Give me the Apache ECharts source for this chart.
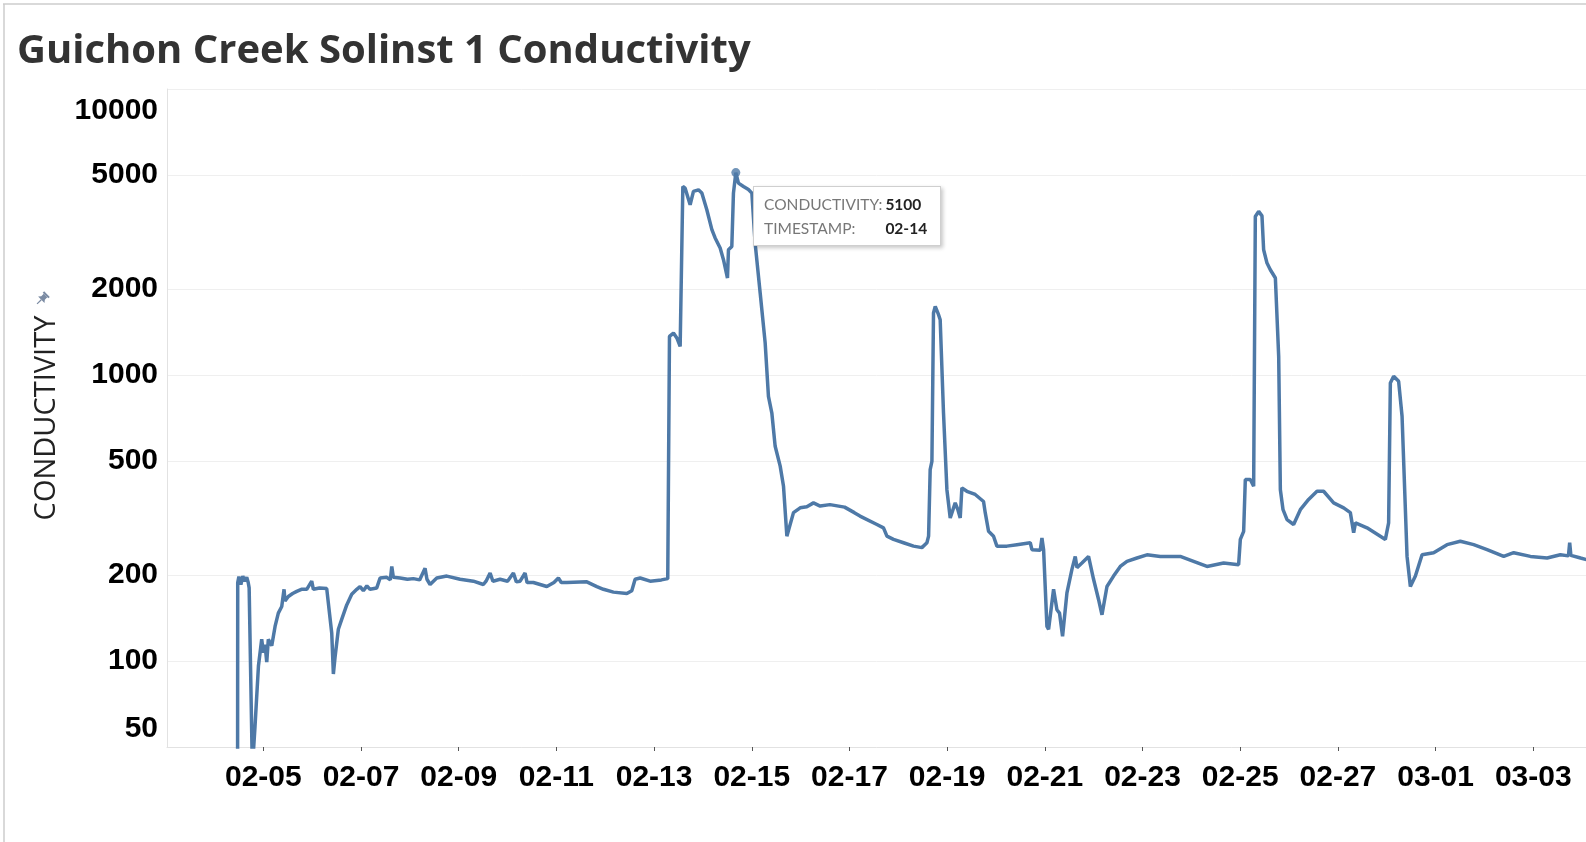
<!DOCTYPE html>
<html>
<head>
<meta charset="utf-8">
<title>Guichon Creek Solinst 1 Conductivity</title>
<script src="https://cdn.jsdelivr.net/npm/echarts@6.0.0/dist/echarts.min.js"></script>
<style>
    html, body { margin: 0; padding: 0; background: #fff; }
    #chart { width: 1586px; height: 842px; }
</style>
</head>
<body>
<div id="chart"></div>
<script>
// 年份（图上只显示 月-日）
var YEAR = '2019';

// 采样时间 MM-DD HH:mm
var timestamps = [
    '02-04 11:17', '02-04 11:25', '02-04 12:00', '02-04 12:58', '02-04 13:55', '02-04 14:53', '02-04 15:50', '02-04 16:34',
    '02-04 17:02', '02-04 18:36', '02-04 19:55', '02-04 21:36', '02-04 23:12', '02-05 00:00', '02-05 00:50', '02-05 01:41',
    '02-05 02:27', '02-05 04:08', '02-05 05:46', '02-05 07:22', '02-05 09:03', '02-05 10:11', '02-05 10:39', '02-05 12:17',
    '02-05 14:24', '02-05 16:25', '02-05 18:43', '02-05 21:20', '02-05 23:47', '02-06 00:35', '02-06 03:36', '02-06 07:09',
    '02-06 07:57', '02-06 09:37', '02-06 10:25', '02-06 11:14', '02-06 12:52', '02-06 14:33', '02-06 16:59', '02-06 19:26',
    '02-06 21:55', '02-06 23:31', '02-07 01:09', '02-07 02:53', '02-07 04:26', '02-07 07:44', '02-07 09:22', '02-07 12:39',
    '02-07 14:24', '02-07 15:07', '02-07 15:53', '02-07 19:12', '02-07 22:48', '02-08 01:44', '02-08 04:48', '02-08 07:28',
    '02-08 08:24', '02-08 09:56', '02-08 13:13', '02-08 18:09', '02-09 00:40', '02-09 07:13', '02-09 12:07', '02-09 13:26',
    '02-09 15:26', '02-09 16:48', '02-09 20:20', '02-10 00:00', '02-10 02:53', '02-10 04:19', '02-10 06:10', '02-10 08:37',
    '02-10 09:36', '02-10 12:42', '02-10 19:18', '02-10 22:48', '02-11 00:59', '02-11 02:24', '02-11 05:07', '02-11 14:57',
    '02-11 19:52', '02-11 23:07', '02-12 04:02', '02-12 10:37', '02-12 13:03', '02-12 14:41', '02-12 17:10', '02-12 22:03',
    '02-13 03:36', '02-13 06:43', '02-13 07:34', '02-13 09:32', '02-13 11:11', '02-13 12:49', '02-13 13:38', '02-13 14:08',
    '02-13 15:16', '02-13 17:43', '02-13 19:21', '02-13 21:48', '02-13 23:28', '02-14 01:55', '02-14 04:24', '02-14 06:00',
    '02-14 08:28', '02-14 10:06', '02-14 12:04', '02-14 12:33', '02-14 14:12', '02-14 15:00', '02-14 16:10', '02-14 17:28',
    '02-14 19:55', '02-14 22:22', '02-15 00:03', '02-15 01:39', '02-15 04:08', '02-15 06:35', '02-15 08:12', '02-15 09:52',
    '02-15 11:30', '02-15 13:58', '02-15 15:36', '02-15 17:15', '02-15 18:03', '02-15 20:30', '02-15 23:47', '02-16 03:04',
    '02-16 06:20', '02-16 09:37', '02-16 14:24', '02-16 21:36', '02-17 02:24', '02-17 05:11', '02-17 13:29', '02-17 16:44',
    '02-17 18:25', '02-17 21:39', '02-18 02:34', '02-18 07:29', '02-18 11:35', '02-18 14:04', '02-18 14:53', '02-18 15:40',
    '02-18 16:31', '02-18 17:18', '02-18 18:09', '02-18 19:47', '02-18 20:35', '02-18 22:13', '02-18 23:53', '02-19 01:31',
    '02-19 03:58', '02-19 05:17', '02-19 06:26', '02-19 07:15', '02-19 09:42', '02-19 13:48', '02-19 17:53', '02-19 18:43',
    '02-19 20:21', '02-19 22:48', '02-20 00:27', '02-20 05:22', '02-20 10:18', '02-20 16:51', '02-20 17:40', '02-20 21:45',
    '02-20 22:35', '02-20 23:24', '02-21 01:02', '02-21 01:51', '02-21 04:18', '02-21 05:57', '02-21 07:13', '02-21 08:43',
    '02-21 10:52', '02-21 13:19', '02-21 14:57', '02-21 15:48', '02-21 18:14', '02-21 21:29', '02-21 23:57', '02-22 02:24',
    '02-22 04:05', '02-22 06:32', '02-22 09:46', '02-22 13:05', '02-22 16:22', '02-22 21:16', '02-23 02:11', '02-23 08:44',
    '02-23 18:33', '02-24 01:06', '02-24 07:41', '02-24 15:52', '02-24 23:14', '02-25 00:04', '02-25 01:42', '02-25 02:31',
    '02-25 04:58', '02-25 06:37', '02-25 07:26', '02-25 09:04', '02-25 10:42', '02-25 11:31', '02-25 13:10', '02-25 14:48',
    '02-25 17:17', '02-25 18:55', '02-25 19:44', '02-25 21:03', '02-25 23:01', '02-26 02:15', '02-26 05:33', '02-26 09:37',
    '02-26 13:44', '02-26 16:59', '02-26 21:55', '02-27 02:50', '02-27 06:07', '02-27 07:45', '02-27 08:38', '02-27 14:18',
    '02-27 20:51', '02-27 23:20', '02-28 00:56', '02-28 01:47', '02-28 03:24', '02-28 05:51', '02-28 07:32', '02-28 09:59',
    '02-28 11:37', '02-28 14:05', '02-28 17:22', '02-28 23:04', '03-01 05:38', '03-01 12:10', '03-01 18:43', '03-02 01:18',
    '03-02 09:29', '03-02 14:24', '03-02 22:36', '03-03 06:49', '03-03 13:20', '03-03 17:17', '03-03 17:54', '03-03 18:29',
    '03-03 23:14', '03-04 02:10', '03-04 04:48'
];

// 电导率读数
var conductivity = [
    10, 188, 197, 185, 198, 190, 196, 188,
    180, 42, 59, 96, 119, 107, 114, 99,
    119, 113, 132, 147, 155, 178, 162, 168,
    172, 175, 178, 178, 190, 178, 180, 179,
    177, 125, 90, 103, 129, 140, 157, 171,
    178, 182, 176, 183, 178, 180, 195, 196,
    192, 214, 196, 195, 193, 194, 192, 211,
    193, 185, 195, 198, 193, 190, 185, 190,
    203, 190, 193, 190, 203, 189, 190, 203,
    188, 188, 182, 188, 195, 188, 188, 189,
    182, 178, 174, 172, 176, 193, 195, 190,
    192, 194, 1364, 1401, 1347, 1259, 1270, 4560,
    4500, 3937, 4385, 4440, 4325, 3782, 3221, 3013,
    2780, 2530, 2183, 2740, 2814, 4325, 5100, 4688,
    4560, 4450, 4325, 2891, 1935, 1294, 841, 736,
    563, 480, 408, 273, 270, 330, 343, 346,
    357, 348, 352, 345, 330, 321, 300, 292,
    273, 266, 259, 252, 249, 259, 273, 467,
    499, 1647, 1738, 1625, 1560, 736, 397, 316,
    357, 338, 316, 403, 392, 382, 361, 330,
    284, 273, 252, 252, 255, 259, 245, 244,
    269, 245, 132, 129, 178, 151, 147, 122,
    173, 209, 232, 212, 220, 232, 193, 164,
    145, 182, 198, 214, 223, 229, 235, 232,
    232, 223, 214, 220, 217, 266, 284, 431,
    431, 408, 3583, 3732, 3600, 2740, 2462, 2333,
    2183, 1161, 397, 338, 312, 300, 338, 367,
    392, 392, 357, 343, 330, 281, 304, 292,
    273, 266, 304, 938, 990, 950, 717, 232,
    182, 198, 235, 239, 255, 262, 255, 245,
    232, 239, 232, 229, 235, 233, 259, 234,
    229, 226, 225
];

// 坐标轴刻度
var yTickValues = [50, 100, 200, 500, 1000, 2000, 5000, 10000];
var xTickLabels = ['02-05', '02-07', '02-09', '02-11', '02-13', '02-15', '02-17',
    '02-19', '02-21', '02-23', '02-25', '02-27', '03-01', '03-03'];
// x轴范围
var xMin = '02-03 00:40';
var xMax = '03-04 01:55';

function toTime(s) {
    return new Date(YEAR + '-' + s.replace(' ', 'T')).getTime();
}
function pad(n) {
    return (n < 10 ? '0' : '') + n;
}
function mmdd(v) {
    var d = new Date(v);
    return pad(d.getMonth() + 1) + '-' + pad(d.getDate());
}

// 对数坐标：用 log10 后的值画在数值轴上
var lineData = timestamps.map(function (t, i) {
    return [toTime(t), Math.log10(conductivity[i]), conductivity[i]];
});

// 最大值的点（显示提示框）
var peakIndex = 0;
conductivity.forEach(function (v, i) {
    if (v > conductivity[peakIndex]) peakIndex = i;
});

var xTicks = xTickLabels.map(function (l) { return toTime(l + ' 00:00'); });
var yTicks = yTickValues.map(function (v) { return Math.log10(v); });

var chart = echarts.init(document.querySelector('#chart'));

var labelFont = { fontFamily: 'Liberation Sans', fontSize: 30, fontWeight: 'bold', color: '#000' };

var option = {
    animation: false,
    // 标题组件
    title: {
        text: 'Guichon Creek Solinst 1 Conductivity',
        left: 12,
        top: 27,
        textStyle: {
            fontFamily: 'Open Sans',
            fontSize: 40,
            fontWeight: 'bold',
            color: '#333'
        }
    },
    // 提示框组件
    tooltip: {
        trigger: 'item',
        triggerOn: 'none',
        alwaysShowContent: true,
        transitionDuration: 0,
        backgroundColor: '#fff',
        borderColor: '#cfcfcf',
        borderWidth: 1,
        padding: [5, 12, 5, 10],
        extraCssText: 'box-shadow: 2px 2px 4px rgba(0,0,0,0.22); border-radius: 0;',
        position: function (point) {
            return [point[0] + 17, point[1] + 13];
        },
        formatter: function (p) {
            var k = 'color:#777;padding:0 2px 0 0;';
            var v = 'color:#222;font-weight:bold;';
            return '<table style="border-collapse:collapse;font-family:Lato;font-size:15.5px;line-height:22px">' +
                '<tr><td style="' + k + '">CONDUCTIVITY:</td><td style="' + v + '">' + p.value[2] + '</td></tr>' +
                '<tr><td style="' + k + '">TIMESTAMP:</td><td style="' + v + 'text-align:right">' + mmdd(p.value[0]) + '</td></tr>' +
                '</table>';
        }
    },
    grid: {
        left: 167,
        right: 0,
        top: 89,
        bottom: 95,
        outerBoundsMode: 'none'
    },
    // 时间轴（毫秒数值）
    xAxis: {
        type: 'value',
        min: toTime(xMin),
        max: toTime(xMax),
        axisLine: { lineStyle: { color: '#e2e2e2' } },
        axisTick: {
            show: true,
            customValues: xTicks,
            length: 4,
            lineStyle: { color: '#555' }
        },
        axisLabel: {
            customValues: xTicks,
            formatter: mmdd,
            margin: 16,
            fontFamily: labelFont.fontFamily,
            fontSize: labelFont.fontSize,
            fontWeight: labelFont.fontWeight,
            color: labelFont.color
        },
        splitLine: { show: false }
    },
    yAxis: {
        type: 'value',
        min: yTicks[0],
        max: yTicks[yTicks.length - 1],
        name: 'CONDUCTIVITY',
        nameLocation: 'middle',
        nameRotate: 90,
        nameGap: 106,
        nameTextStyle: {
            fontFamily: 'Open Sans',
            fontSize: 29,
            color: '#222'
        },
        axisLine: { show: true, lineStyle: { color: '#e2e2e2' } },
        axisTick: {
            show: false,
            customValues: yTicks
        },
        axisLabel: {
            customValues: yTicks,
            margin: 9,
            fontFamily: labelFont.fontFamily,
            fontSize: labelFont.fontSize,
            fontWeight: labelFont.fontWeight,
            color: labelFont.color,
            formatter: function (v) {
                var n = Math.round(Math.pow(10, v));
                if (n === yTickValues[yTickValues.length - 1]) return '{hi|' + n + '}';
                if (n === yTickValues[0]) return '{lo|' + n + '}';
                return n;
            },
            rich: {
                hi: Object.assign({ padding: [44, 0, 0, 0] }, labelFont),
                lo: Object.assign({ padding: [0, 0, 36, 0] }, labelFont)
            }
        },
        splitLine: { lineStyle: { color: '#efefef', width: 1 } }
    },
    series: [
        {
            name: 'CONDUCTIVITY',
            type: 'line',
            data: lineData,
            showSymbol: false,
            clip: true,
            lineStyle: { color: '#4e79a7', width: 3.5 },
            itemStyle: { color: '#4e79a7' }
        },
        {
            // 高亮的峰值点
            type: 'scatter',
            data: [lineData[peakIndex]],
            symbolSize: 9,
            itemStyle: { color: '#4e79a7' },
            emphasis: { scale: false }
        }
    ],
    // 外框线和图钉图标
    graphic: [
        { type: 'line', shape: { x1: 3, y1: 4, x2: 1586, y2: 4 }, style: { stroke: '#cccccc', lineWidth: 1.5 } },
        { type: 'line', shape: { x1: 4, y1: 4, x2: 4, y2: 842 }, style: { stroke: '#cccccc', lineWidth: 1.5 } },
        {
            type: 'group',
            x: 42, y: 299,
            rotation: -Math.PI / 4,
            children: [
                { type: 'rect', shape: { x: -4, y: -7, width: 8, height: 2 }, style: { fill: '#7b8ba3' } },
                { type: 'polygon', shape: { points: [[-2.5, -5], [2.5, -5], [2.5, -1.5], [4.5, 1], [-4.5, 1], [-2.5, -1.5]] }, style: { fill: '#7b8ba3' } },
                { type: 'line', shape: { x1: 0, y1: 1, x2: 0, y2: 7 }, style: { stroke: '#7b8ba3', lineWidth: 1.2 } }
            ]
        }
    ]
};

chart.setOption(option);

// 显示峰值提示框
chart.dispatchAction({ type: 'showTip', seriesIndex: 1, dataIndex: 0 });
</script>
</body>
</html>
